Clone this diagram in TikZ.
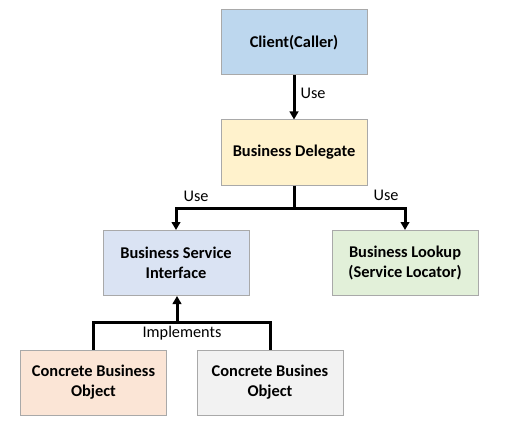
\documentclass[tikz,border=0pt]{standalone}
\usepackage{fontspec}
\setmainfont{Carlito}
\usetikzlibrary{arrows.meta}
\definecolor{cClient}{HTML}{BDD7EE}
\definecolor{cDeleg}{HTML}{FFF2CC}
\definecolor{cIface}{HTML}{DAE3F3}
\definecolor{cLookup}{HTML}{E2F0D9}
\definecolor{cConc}{HTML}{FBE5D6}
\definecolor{cConcB}{HTML}{F2F2F2}
\definecolor{cBorder}{HTML}{A9A9A9}
\tikzset{
  box/.style={draw=cBorder, line width=0.75pt, minimum width=109.5pt, minimum height=48.75pt, inner sep=0pt, align=center, font=\fontsize{12.3}{15}\selectfont\bfseries},
  conn/.style={line width=2.25pt, -{Triangle[length=6pt,width=6.5pt]}},
  bar/.style={line width=2.25pt},
  lbl/.style={font=\fontsize{12.2}{14}\selectfont, inner sep=0pt}
}
\begin{document}
\begin{tikzpicture}[x=0.75pt,y=-0.75pt]
\useasboundingbox (0,0) rectangle (505,438);
\node[box, fill=cClient] (client) at (294,42.5) {Client(Caller)};
\node[box, fill=cDeleg] (deleg) at (294,152.5) {Business Delegate};
\node[box, fill=cIface] (iface) at (176,263) {Business Service\\Interface};
\node[box, fill=cLookup] (lookup) at (405,263) {Business Lookup\\(Service Locator)};
\node[box, fill=cConc] (conc1) at (93.5,382.5) {Concrete Business\\Object};
\node[box, fill=cConcB] (conc2) at (270,382.5) {Concrete Busines\\Object};
\coordinate (split) at (294,208);
\coordinate (join) at (177,322);
\draw[conn] (client.south) -- (deleg.north);
\node[lbl] (use0) at (313,93) {Use};
\draw[bar] (deleg.south) -- (split);
\draw[conn] (split) -| (iface.north);
\draw[conn] (split) -| (lookup.north);
\node[lbl] (use1) at (196,196) {Use};
\node[lbl] (use2) at (386,195) {Use};
\draw[bar] (conc1.north -| 93,0) |- (join);
\draw[bar] (conc2.north) |- (join);
\draw[conn] (join) -- (iface.south -| join);
\node[lbl] (impl) at (182,333) {Implements};
\end{tikzpicture}
\end{document}
